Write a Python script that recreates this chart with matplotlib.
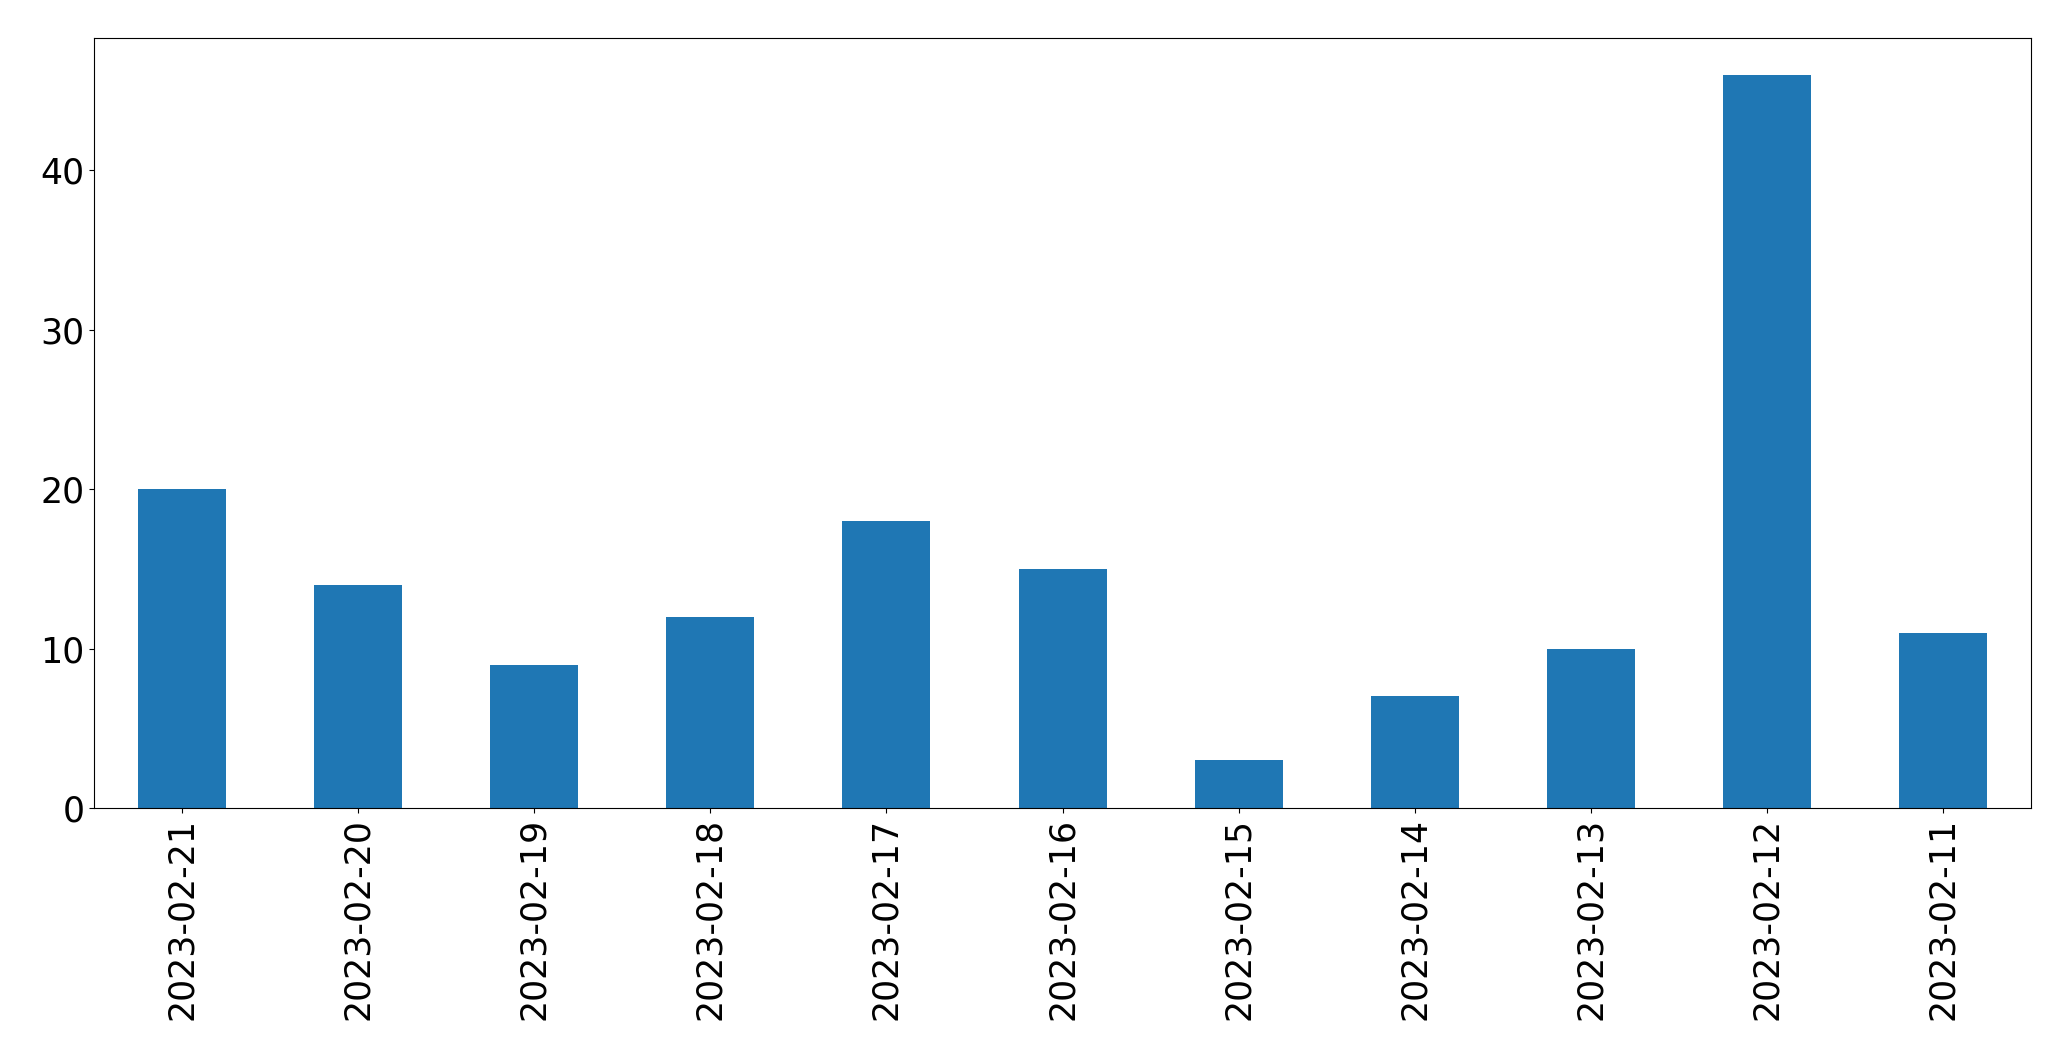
import matplotlib
matplotlib.use("Agg")
import matplotlib.pyplot as plt
import numpy as np

dates = ["2023-02-21", "2023-02-20", "2023-02-19", "2023-02-18", "2023-02-17",
         "2023-02-16", "2023-02-15", "2023-02-14", "2023-02-13", "2023-02-12",
         "2023-02-11"]
counts = [20, 14, 9, 12, 18, 15, 3, 7, 10, 46, 11]

fig = plt.figure(figsize=(20.71, 10.61), dpi=100)
ax = fig.add_axes([0.0454, 0.2385, 0.9353, 0.7255])
x = np.arange(len(dates))
ax.bar(x, counts, width=0.5, color="#1f77b4")
ax.set_xlim(-0.5, len(dates) - 0.5)
ax.set_ylim(0, max(counts) * 1.05)
ax.set_xticks(x)
ax.set_xticklabels(dates, rotation=90, fontsize=25)
ax.set_yticks([0, 10, 20, 30, 40])
ax.tick_params(axis="y", labelsize=25)
fig.savefig("out.png", dpi=100)
